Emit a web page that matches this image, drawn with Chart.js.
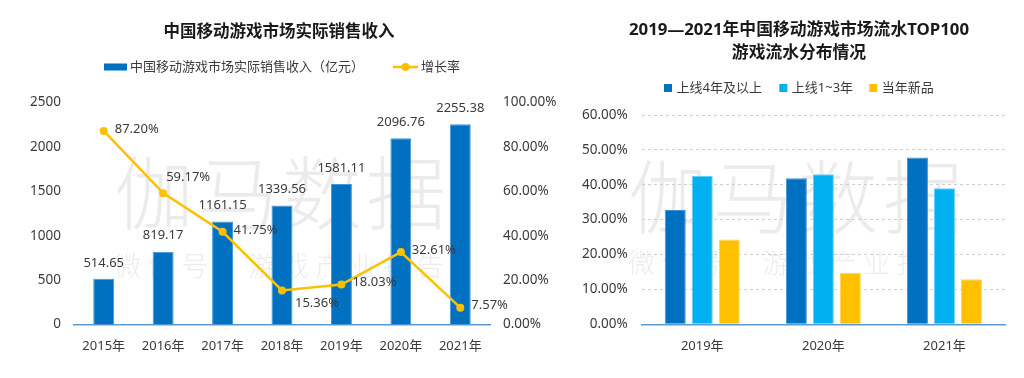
<!DOCTYPE html>
<html><head><meta charset="utf-8">
<script src="https://cdn.jsdelivr.net/npm/chart.js@4.4.1/dist/chart.umd.min.js"></script>
<style>
html,body{margin:0;padding:0;background:#fff;overflow:hidden;width:1024px;height:378px}
.box{position:absolute;top:0}
#b1{left:0;width:560px;height:378px}
#b2{left:560px;width:464px;height:378px}
</style></head><body>
<div class="box" id="b1"><canvas id="c1" width="560" height="378"></canvas></div>
<div class="box" id="b2"><canvas id="c2" width="464" height="378"></canvas></div>
<script>
// ---- data: left chart ----
const years1 = ['2015年','2016年','2017年','2018年','2019年','2020年','2021年'];
const revenue = [514.65, 819.17, 1161.15, 1339.56, 1581.11, 2096.76, 2255.38];
const growth = [87.20, 59.17, 41.75, 15.36, 18.03, 32.61, 7.57];
const revLabel = '中国移动游戏市场实际销售收入（亿元）';
const growthLabel = '增长率';
const title1 = '中国移动游戏市场实际销售收入';
// ---- data: right chart ----
const years2 = ['2019年','2020年','2021年'];
const over4 = [32.8, 41.9, 47.8];
const oneTo3 = [42.6, 43.0, 39.0];
const newGames = [24.3, 14.8, 12.9];
const seriesNames2 = ['上线4年及以上','上线1~3年','当年新品'];
const title2 = ['2019—2021年中国移动游戏市场流水TOP100','游戏流水分布情况'];
const wmMain = '伽马数据';
const wmSub = '微信号：游戏产业报告';

// ---- styles ----
const FONT = '"Noto Sans","Noto Sans CJK SC",sans-serif';
const TXT = '#3a3a3a';
const C_DARK = '#0070C0', C_LIGHT = '#00B0F0', C_YEL = '#FFC000';
const AXIS = '#5B9BD5';
const growthPlace = ['right','above','right','below','right','right','right'];

function drawWatermark(ctx, x0, yMain, ySub, pitchMain, pitchSub) {
  ctx.save();
  ctx.fillStyle = 'rgba(0,0,0,0.08)';
  ctx.textBaseline = 'middle';
  ctx.textAlign = 'left';
  ctx.font = '300 80px ' + FONT;
  [...wmMain].forEach((ch, i) => ctx.fillText(ch, x0 + i * pitchMain, yMain));
  ctx.font = '300 27px ' + FONT;
  [...wmSub].forEach((ch, i) => ctx.fillText(ch, x0 + i * pitchSub, ySub));
  ctx.restore();
}

Chart.defaults.font.family = FONT;
Chart.defaults.color = TXT;
Chart.defaults.animation = false;

// ---------- left chart ----------
const plugin1 = {
  id: 'p1',
  beforeDraw(chart) {
    const ctx = chart.ctx;
    ctx.save(); ctx.fillStyle = '#fff'; ctx.fillRect(0, 0, chart.width, chart.height); ctx.restore();
    drawWatermark(ctx, 114, 200, 268, 84, 33.6);
  },
  afterDraw(chart) {
    const ctx = chart.ctx;
    const bar = chart.data.datasets[0], line = chart.data.datasets[1];
    ctx.save();
    // title
    ctx.fillStyle = '#1a1a1a';
    ctx.font = 'bold 16.5px ' + FONT;
    ctx.textAlign = 'center'; ctx.textBaseline = 'middle';
    ctx.fillText(title1, 279, 32);
    // legend
    ctx.font = '13px ' + FONT;
    ctx.textAlign = 'left';
    ctx.fillStyle = bar.backgroundColor;
    ctx.fillRect(104, 63.5, 23, 7);
    ctx.fillStyle = TXT;
    ctx.fillText(bar.label, 130, 67);
    ctx.strokeStyle = line.borderColor; ctx.lineWidth = 2.5;
    ctx.beginPath(); ctx.moveTo(393, 67); ctx.lineTo(418, 67); ctx.stroke();
    ctx.fillStyle = line.borderColor; ctx.beginPath(); ctx.arc(405.5, 67, 4, 0, Math.PI * 2); ctx.fill();
    ctx.fillStyle = TXT;
    ctx.fillText(line.label, 421, 67);
    // bar labels
    ctx.font = '13px ' + FONT;
    ctx.textAlign = 'center';
    chart.getDatasetMeta(0).data.forEach((el, i) => {
      ctx.fillText(revenue[i].toFixed(2), el.x, el.y - 16);
    });
    // line labels
    ctx.textAlign = 'left';
    chart.getDatasetMeta(1).data.forEach((el, i) => {
      const p = growthPlace[i];
      let dx = 11, dy = -2;
      if (p === 'above') { dx = 3; dy = -16; }
      if (p === 'below') { dx = 13; dy = 13; }
      ctx.fillText(growth[i].toFixed(2) + '%', el.x + dx, el.y + dy);
    });
    ctx.restore();
  }
};

new Chart(document.getElementById('c1'), {
  data: {
    labels: years1,
    datasets: [
      { type: 'bar', label: revLabel, data: revenue, yAxisID: 'y', order: 1,
        backgroundColor: C_DARK, borderColor: '#4196dc', borderWidth: 1,
        categoryPercentage: 0.8, barPercentage: 0.441 },
      { type: 'line', label: growthLabel, data: growth, yAxisID: 'y1', order: 0,
        borderColor: C_YEL, backgroundColor: C_YEL, borderWidth: 2.5, tension: 0,
        pointRadius: 4, pointBackgroundColor: C_YEL, pointBorderWidth: 0 }
    ]
  },
  options: {
    responsive: false,
    layout: { padding: { top: 102.5, left: 0, right: 0, bottom: 0 } },
    plugins: { legend: { display: false }, title: { display: false }, tooltip: { enabled: false } },
    scales: {
      x: {
        grid: { display: false, drawTicks: false },
        border: { display: true, color: AXIS, width: 1.5 },
        ticks: { padding: 14, font: { size: 13 }, color: TXT },
        afterFit(s) { s.height = 53.5; }
      },
      y: {
        position: 'left', min: 0, max: 2500,
        grid: { display: false, drawTicks: false }, border: { display: false },
        ticks: { stepSize: 500, padding: 13, font: { size: 13.5 }, color: TXT,
          callback: v => String(v) },
        afterFit(s) { s.width = 74; }
      },
      y1: {
        position: 'right', min: 0, max: 100,
        grid: { display: false, drawTicks: false }, border: { display: false },
        ticks: { stepSize: 20, padding: 13, font: { size: 13.5 }, color: TXT,
          callback: v => v.toFixed(2) + '%' },
        afterFit(s) { s.width = 70; }
      }
    }
  },
  plugins: [plugin1]
});
</script>
<script>
// ---------- right chart ----------
const plugin2 = {
  id: 'p2',
  beforeDraw(chart) {
    const ctx = chart.ctx;
    ctx.save(); ctx.fillStyle = '#fff'; ctx.fillRect(0, 0, chart.width, chart.height); ctx.restore();
    drawWatermark(ctx, 68, 204, 265, 85, 33.6);
  },
  afterDraw(chart) {
    const ctx = chart.ctx;
    ctx.save();
    ctx.fillStyle = '#1a1a1a';
    ctx.font = 'bold 16.8px ' + FONT;
    ctx.textAlign = 'center'; ctx.textBaseline = 'middle';
    ctx.fillText(title2[0], 239, 30);
    ctx.fillText(title2[1], 239, 53);
    ctx.font = '13px ' + FONT;
    ctx.textAlign = 'left';
    const xs = [104, 219.3, 309.3];
    chart.data.datasets.forEach((ds, i) => {
      ctx.fillStyle = ds.backgroundColor;
      ctx.fillRect(xs[i], 84, 8, 8);
      ctx.fillStyle = TXT;
      ctx.fillText(ds.label, xs[i] + 12.5, 88);
    });
    ctx.restore();
  }
};

const common2 = { borderWidth: 1, categoryPercentage: 0.669, barPercentage: 0.778 };
new Chart(document.getElementById('c2'), {
  type: 'bar',
  data: {
    labels: years2,
    datasets: [
      Object.assign({ label: seriesNames2[0], data: over4, backgroundColor: C_DARK, borderColor: '#3f92d8' }, common2),
      Object.assign({ label: seriesNames2[1], data: oneTo3, backgroundColor: C_LIGHT, borderColor: '#66cff6' }, common2),
      Object.assign({ label: seriesNames2[2], data: newGames, backgroundColor: C_YEL, borderColor: '#ffd55a' }, common2)
    ]
  },
  options: {
    responsive: false,
    layout: { padding: { top: 115, left: 0, right: 19, bottom: 0 } },
    plugins: { legend: { display: false }, title: { display: false }, tooltip: { enabled: false } },
    scales: {
      x: {
        grid: { display: false, drawTicks: false },
        border: { display: true, color: AXIS, width: 1.5 },
        ticks: { padding: 14, font: { size: 13 }, color: TXT },
        afterFit(s) { s.height = 53.7; }
      },
      y: {
        min: 0, max: 60,
        grid: { color: '#cfcfcf', drawTicks: false, lineWidth: 1 },
        border: { display: false, dash: [3, 3] },
        ticks: { stepSize: 10, padding: 14, font: { size: 13.5 }, color: TXT,
          callback: v => v.toFixed(2) + '%' },
        afterFit(s) { s.width = 81.7; }
      }
    }
  },
  plugins: [plugin2]
});
</script>
</body></html>
